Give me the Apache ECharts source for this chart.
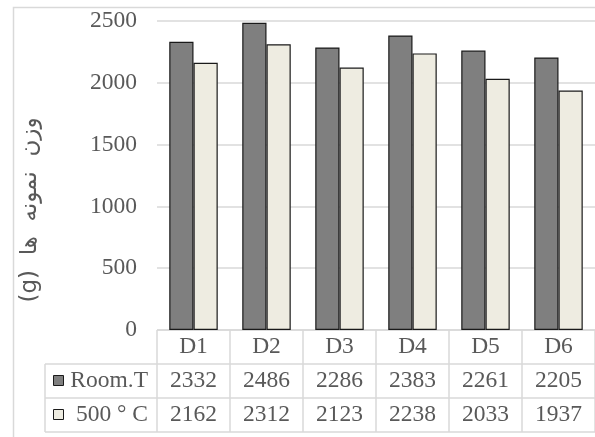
<!DOCTYPE html>
<html>
<head>
<meta charset="utf-8">
<script src="https://cdn.jsdelivr.net/npm/echarts@6/dist/echarts.min.js"></script>
<style>
  html, body { margin: 0; padding: 0; background: #ffffff; }
  #chart { width: 595px; height: 437px; }
</style>
</head>
<body>
<div id="chart"></div>
<script>
// Sample weights per specimen, at room temperature and after 500 °C
const categories = ['D1', 'D2', 'D3', 'D4', 'D5', 'D6'];
const roomT = [2332, 2486, 2286, 2383, 2261, 2205];
const heated = [2162, 2312, 2123, 2238, 2033, 1937];
const seriesNames = ['Room.T', '500 ° C'];
const yTitle = 'وزن نمونه ها (g)';

const textColor = '#595959';
const lineColor = '#d9d9d9';
const serif = '"Liberation Serif", "Times New Roman", serif';
const fontPx = 23.5;
const fills = ['#7f7f7f', '#eeece1'];

const chart = echarts.init(document.getElementById('chart'));

chart.setOption({
  animation: false,
  grid: { left: 157, right: -5, top: 21, bottom: 107, containLabel: false },
  xAxis: {
    type: 'category',
    data: categories,
    axisLine: { show: false },
    axisTick: { show: false },
    axisLabel: { show: false }
  },
  yAxis: {
    type: 'value',
    min: 0,
    max: 2500,
    interval: 500,
    axisLine: { show: false },
    axisTick: { show: false },
    axisLabel: { color: textColor, fontFamily: serif, fontSize: fontPx, margin: 20, formatter: v => String(v) },
    splitLine: { lineStyle: { color: lineColor, width: 1.5 } }
  },
  series: [
    {
      name: seriesNames[0], type: 'bar', data: roomT,
      barGap: '0%', barCategoryGap: '33.6%',
      itemStyle: { color: fills[0], borderColor: '#1a1a1a', borderWidth: 1.2 }
    },
    {
      name: seriesNames[1], type: 'bar', data: heated,
      itemStyle: { color: fills[1], borderColor: '#1a1a1a', borderWidth: 1.2 }
    }
  ]
});

// Data table under the plot, laid out from the category axis positions
function drawTable() {
  const p0 = chart.convertToPixel({ gridIndex: 0 }, [0, 0]);
  const p1 = chart.convertToPixel({ gridIndex: 0 }, [1, 0]);
  const band = p1[0] - p0[0];
  const x0 = p0[0] - band / 2;
  const xEnd = x0 + band * categories.length;
  const yTop = p0[1];
  const rowH = 34;
  const legendLeft = 45;
  const els = [];
  const line = (x1, y1, x2, y2) => ({
    type: 'line', silent: true,
    shape: { x1, y1, x2, y2 },
    style: { stroke: lineColor, lineWidth: 1.5 }
  });
  const text = (x, y, t, align) => ({
    type: 'text', silent: true, x, y,
    style: { text: t, fill: textColor, font: fontPx + 'px ' + serif, align: align || 'center', verticalAlign: 'middle' }
  });

  // outer chart frame
  els.push({ type: 'rect', silent: true, shape: { x: 13.5, y: 7.5, width: 700, height: 600 },
    style: { fill: 'none', stroke: lineColor, lineWidth: 1.5 } });

  // horizontal rules
  els.push(line(x0, yTop, xEnd, yTop));
  for (let r = 1; r <= 3; r++) {
    els.push(line(legendLeft, yTop + rowH * r, xEnd, yTop + rowH * r));
  }
  // vertical rules
  for (let c = 0; c <= categories.length; c++) {
    els.push(line(x0 + band * c, yTop, x0 + band * c, yTop + rowH * 3));
  }
  els.push(line(legendLeft, yTop + rowH, legendLeft, yTop + rowH * 3));

  const rows = [roomT, heated];
  categories.forEach((cat, i) => {
    const cx = x0 + band * (i + 0.5);
    els.push(text(cx, yTop + rowH * 0.5, cat));
    rows.forEach((vals, r) => {
      els.push(text(cx, yTop + rowH * (r + 1.5), String(vals[i])));
    });
  });

  // legend keys in the row headers
  seriesNames.forEach((name, r) => {
    const cy = yTop + rowH * (r + 1.5);
    els.push({ type: 'rect', silent: true, shape: { x: 53.5, y: cy - 5.5, width: 10, height: 10 },
      style: { fill: fills[r], stroke: '#1a1a1a', lineWidth: 1 } });
    els.push(text(148, cy, name, 'right'));
  });

  // rotated y-axis title, embedded as right-to-left text
  els.push({
    type: 'text', silent: true, x: 30, y: 210, rotation: Math.PI / 2,
    style: { text: '\u202B' + yTitle.replace(/ /g, '  ') + '\u202C', fill: textColor, font: '23px "DejaVu Sans", sans-serif', align: 'center', verticalAlign: 'middle' }
  });

  chart.setOption({ graphic: { elements: els } });
}
drawTable();
</script>
</body>
</html>
